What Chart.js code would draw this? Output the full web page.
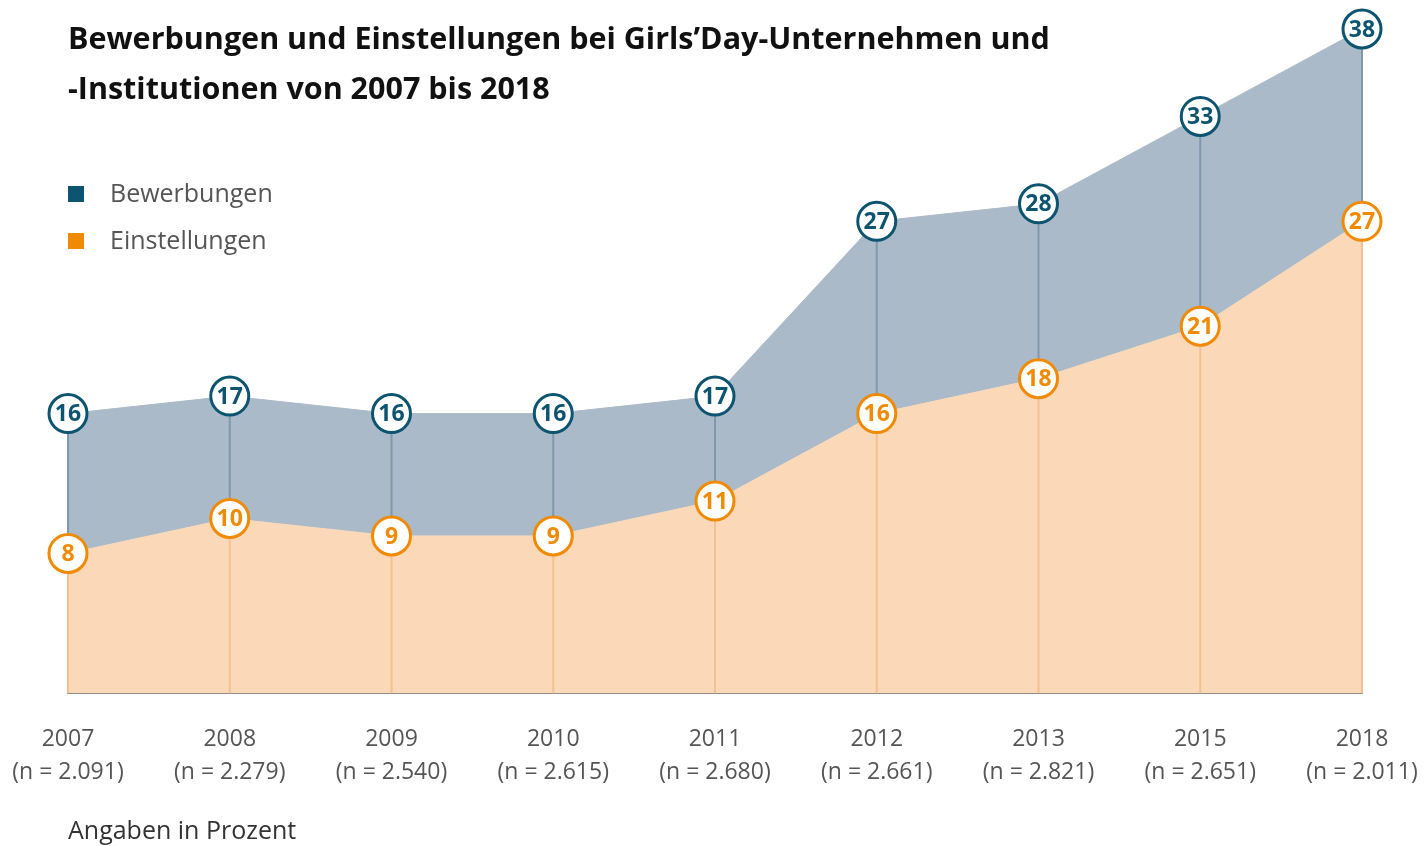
<!DOCTYPE html>
<html>
<head>
<meta charset="utf-8">
<script src="https://cdn.jsdelivr.net/npm/chart.js@4.4.0/dist/chart.umd.min.js"></script>
<style>
    body { margin: 0; background: #fff; }
    #wrap { position: relative; width: 1424px; height: 846px; }
    #titel { position: absolute; left: 68px; top: 12px; font-family: "Open Sans"; font-weight: 700; font-size: 30.5px; line-height: 50px; color: #111; }
    .leg { position: absolute; left: 68px; font-family: "Open Sans"; font-size: 25px; color: #555; }
    .leg span { display: inline-block; width: 16px; height: 16px; margin-right: 26px; vertical-align: 0px; }
    #fuss { position: absolute; left: 68px; top: 812px; font-family: "Open Sans"; font-size: 25px; color: #333; }
</style>
</head>
<body>
<div id="wrap">
    <canvas id="myChart" width="1424" height="846"></canvas>
    <div id="titel">Bewerbungen und Einstellungen bei Girls’Day-Unternehmen und<br>-Institutionen von 2007 bis 2018</div>
    <div class="leg" style="top:175px"><span style="background:#0d5470"></span>Bewerbungen</div>
    <div class="leg" style="top:222px"><span style="background:#f08a00"></span>Einstellungen</div>
    <div id="fuss">Angaben in Prozent</div>
</div>
<script>
var jahre = ['2007', '2008', '2009', '2010', '2011', '2012', '2013', '2015', '2018'];
var stichproben = ['2.091', '2.279', '2.540', '2.615', '2.680', '2.661', '2.821', '2.651', '2.011'];
var bewerbungen = [16, 17, 16, 16, 17, 27, 28, 33, 38];
var einstellungen = [8, 10, 9, 9, 11, 16, 18, 21, 27];

var blau = '#0d5470';
var orange = '#f08a00';

var etiketten = [];
for (var i = 0; i < jahre.length; i++) {
    etiketten.push([jahre[i], '(n = ' + stichproben[i] + ')']);
}

// senkrechte Linien von den Punkten zur Grundlinie
var lotLinien = {
    id: 'lotLinien',
    beforeDatasetsDraw: function (chart) {
        var ctx = chart.ctx;
        var oben = chart.getDatasetMeta(0).data;
        var unten = chart.getDatasetMeta(1).data;
        var basis = chart.scales.y.getPixelForValue(0);
        ctx.save();
        ctx.lineWidth = 2;
        for (var i = 0; i < oben.length; i++) {
            ctx.strokeStyle = '#7f98ad';
            ctx.beginPath();
            ctx.moveTo(oben[i].x, oben[i].y);
            ctx.lineTo(unten[i].x, unten[i].y);
            ctx.stroke();
            ctx.strokeStyle = '#f1c195';
            ctx.beginPath();
            ctx.moveTo(unten[i].x, unten[i].y);
            ctx.lineTo(unten[i].x, basis);
            ctx.stroke();
        }
        ctx.restore();
    }
};

// Zahlen in den Kreisen
var werteText = {
    id: 'werteText',
    afterDatasetsDraw: function (chart) {
        var ctx = chart.ctx;
        ctx.save();
        ctx.font = '700 23px "Open Sans"';
        ctx.textAlign = 'center';
        ctx.textBaseline = 'middle';
        chart.data.datasets.forEach(function (ds, d) {
            var punkte = chart.getDatasetMeta(d).data;
            ctx.fillStyle = ds.pointBorderColor;
            for (var i = 0; i < punkte.length; i++) {
                ctx.fillText(ds.data[i], punkte[i].x, punkte[i].y + 1);
            }
        });
        ctx.restore();
    }
};

const ctx = document.getElementById('myChart').getContext('2d');
const myChart = new Chart(ctx, {
    type: 'line',
    data: {
        labels: etiketten,
        datasets: [{
            label: 'Bewerbungen',
            data: bewerbungen,
            fill: '+1',
            backgroundColor: '#abbac8',
            borderColor: '#abbac8',
            borderWidth: 1,
            tension: 0,
            pointRadius: 19,
            pointBorderWidth: 3,
            pointBackgroundColor: '#ffffff',
            pointBorderColor: blau
        }, {
            label: 'Einstellungen',
            data: einstellungen,
            fill: 'origin',
            backgroundColor: '#fbd8b7',
            borderColor: '#fbd8b7',
            borderWidth: 1,
            tension: 0,
            pointRadius: 19,
            pointBorderWidth: 3,
            pointBackgroundColor: '#ffffff',
            pointBorderColor: orange
        }]
    },
    options: {
        responsive: false,
        animation: false,
        clip: false,
        layout: {
            autoPadding: false,
            padding: { left: 68, right: 62, top: 29, bottom: 55 }
        },
        plugins: {
            legend: { display: false },
            tooltip: { enabled: false },
            filler: { drawTime: 'beforeDatasetsDraw' }
        },
        scales: {
            x: {
                offset: false,
                grid: { display: false, drawTicks: true, tickLength: 27 },
                border: { display: true, color: '#8c8c8c', width: 2 },
                ticks: {
                    padding: 2,
                    maxRotation: 0,
                    autoSkip: false,
                    color: '#555',
                    font: { family: 'Open Sans', size: 23, lineHeight: 1.45 }
                }
            },
            y: {
                display: false,
                min: 0,
                max: 38
            }
        }
    },
    plugins: [lotLinien, werteText]
});
</script>
</body>
</html>
